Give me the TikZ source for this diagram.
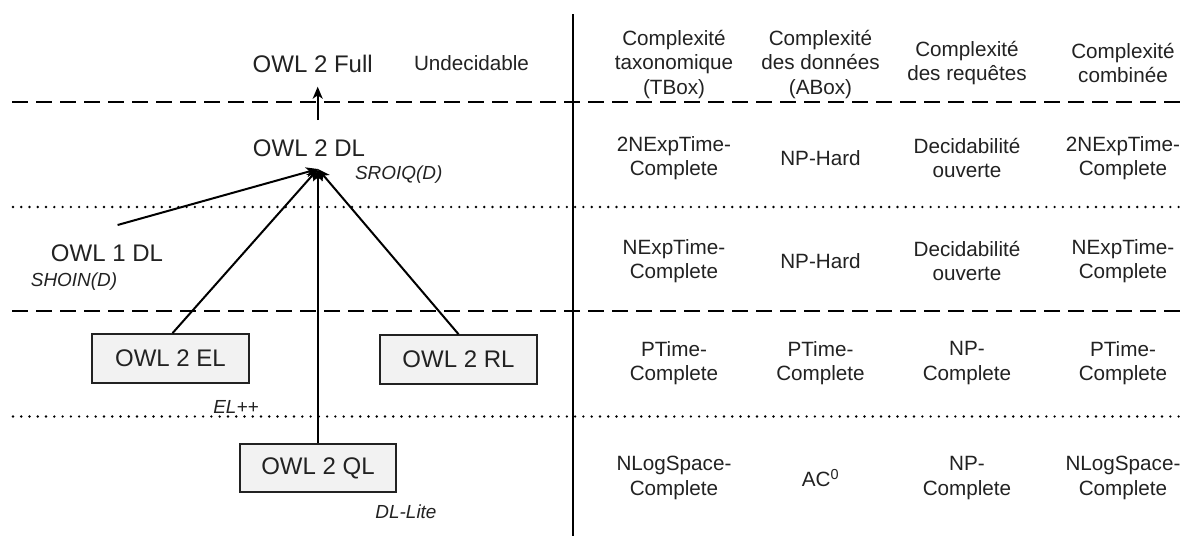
\documentclass[tikz,border=0pt]{standalone}
\usepackage{fontspec}
\setmainfont{Liberation Sans}
\usetikzlibrary{arrows.meta}
\definecolor{ink}{HTML}{222222}
\definecolor{boxfill}{HTML}{F2F2F2}
\begin{document}
\begin{tikzpicture}[x=0.75pt,y=-0.75pt,
  big/.style={font=\fontsize{18}{21.6}\selectfont, text=ink, inner sep=0pt, anchor=base},
  mid/.style={font=\fontsize{15.5}{18.4}\selectfont, text=ink, inner sep=0pt, anchor=base},
  ital/.style={font=\fontsize{14.2}{17}\selectfont\itshape, text=ink, inner sep=0pt, anchor=base},
  owlbox/.style={draw=ink, fill=boxfill, line width=1.5pt, font=\fontsize{18}{21.6}\selectfont,
    text=ink, minimum width=117.5pt, minimum height=36.5pt, inner sep=0pt, anchor=center},
  cell/.style={font=\fontsize{15.5}{18.4}\selectfont, text=ink, align=center, inner sep=0pt, anchor=center},
  arr/.style={draw=black, line width=1.5pt, -{Stealth[length=9pt,width=7.5pt,inset=2.5pt]}},
  dashsep/.style={draw=black, line width=1.7pt, dash pattern=on 12pt off 6pt},
  dotsep/.style={draw=black, line width=2pt, line cap=round, dash pattern=on 0pt off 6.2pt},
  vsep/.style={draw=black, line width=1.5pt}
]
\fill[white] (0,0) rectangle (1186,536);
\useasboundingbox (0,0) rectangle (1186,536);

% separators
\draw[dashsep] (12,101.7) -- (1186,101.7);
\draw[dotsep] (13,207) -- (1186,207);
\draw[dashsep] (12,311) -- (1186,311);
\draw[dotsep] (13,416.5) -- (1186,416.5);
\draw[vsep] (572.5,14) -- (572.5,536);

% left part
\node[big] (full) at (312.7,72.6) {OWL 2 Full};
\node[mid] (undec) at (471.5,70.5) {Undecidable};
\node[big] (dl2) at (309,156) {OWL 2 DL};
\node[ital] (sroiq) at (398.7,179.5) {SROIQ(D)};
\node[big] (dl1) at (107,261.6) {OWL 1 DL};
\node[ital] (shoin) at (74,286) {SHOIN(D)};
\node[owlbox] (el) at (170.5,358.5) {OWL 2 EL};
\node[owlbox] (rl) at (458.5,359.5) {OWL 2 RL};
\node[owlbox] (ql) at (318,468) {OWL 2 QL};
\node[ital] (elpp) at (236,413) {EL++};
\node[ital] (dllite) at (406,518) {DL-Lite};

\coordinate (conv) at (318,169);
\coordinate (fullfrom) at (317.7,120);
\coordinate (fullto) at (317.7,86.7);
\coordinate (dl1from) at (117.6,225);

\draw[arr] (fullfrom) -- (fullto);
\draw[arr] (dl1from) -- (conv);
\draw[arr] ([xshift=1.5pt]el.north) -- (conv);
\draw[arr] (rl.north) -- (conv);
\draw[arr] (ql.north) -- (conv);

% table
\node[cell] (h1) at (674,64.5) {Complexité\\taxonomique\\(TBox)};
\node[cell] (h2) at (820.5,64.5) {Complexité\\des données\\(ABox)};
\node[cell] (h3) at (967,63) {Complexité\\des requêtes};
\node[cell] (h4) at (1123,63) {Complexité\\combinée};

\node[cell] (a1) at (674,158) {2NExpTime-\\Complete};
\node[cell] (a2) at (820.5,158) {NP-Hard};
\node[cell] (a3) at (967,158) {Decidabilité\\ouverte};
\node[cell] (a4) at (1123,158) {2NExpTime-\\Complete};

\node[cell] (b1) at (674,261) {NExpTime-\\Complete};
\node[cell] (b2) at (820.5,261) {NP-Hard};
\node[cell] (b3) at (967,261) {Decidabilité\\ouverte};
\node[cell] (b4) at (1123,261) {NExpTime-\\Complete};

\node[cell] (c1) at (674,363) {PTime-\\Complete};
\node[cell] (c2) at (820.5,363) {PTime-\\Complete};
\node[cell] (c3) at (967,363) {NP-\\Complete};
\node[cell] (c4) at (1123,363) {PTime-\\Complete};

\node[cell] (d1) at (674,478) {NLogSpace-\\Complete};
\node[cell] (d2) at (820.5,478) {AC\textsuperscript{0}};
\node[cell] (d3) at (967,478) {NP-\\Complete};
\node[cell] (d4) at (1123,478) {NLogSpace-\\Complete};
\end{tikzpicture}
\end{document}
